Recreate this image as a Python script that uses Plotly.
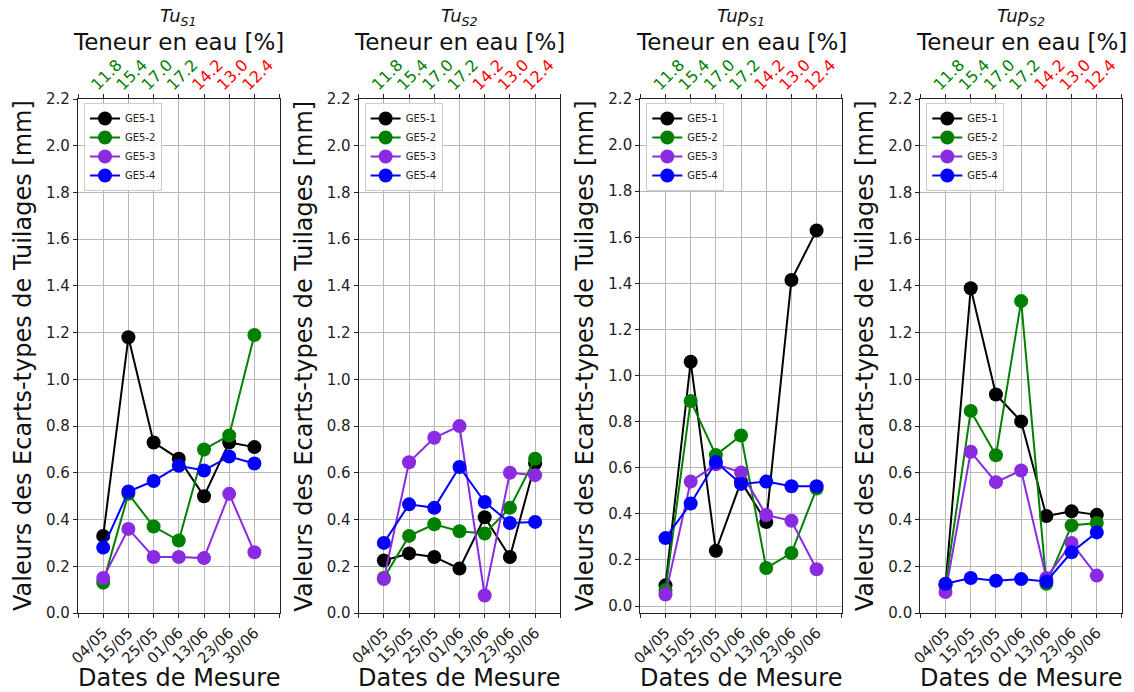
import plotly.graph_objects as go

dates = ["04/05", "15/05", "25/05", "01/06", "13/06", "23/06", "30/06"]
teneur = ["11.8", "15.4", "17.0", "17.2", "14.2", "13.0", "12.4"]
teneur_colors = ["green", "green", "green", "green", "red", "red", "red"]
series_names = ["GE5-1", "GE5-2", "GE5-3", "GE5-4"]
series_colors = ["black", "green", "blueviolet", "blue"]
panel_titles = ["Tu<sub>S1</sub>", "Tu<sub>S2</sub>", "Tup<sub>S1</sub>", "Tup<sub>S2</sub>"]

tu_s1 = [
    [0.33, 1.18, 0.73, 0.66, 0.50, 0.73, 0.71],
    [0.13, 0.51, 0.37, 0.31, 0.70, 0.76, 1.19],
    [0.15, 0.36, 0.24, 0.24, 0.235, 0.51, 0.26],
    [0.28, 0.52, 0.565, 0.63, 0.61, 0.67, 0.64],
]
tu_s2 = [
    [0.225, 0.255, 0.24, 0.19, 0.41, 0.24, 0.64],
    [0.15, 0.33, 0.38, 0.35, 0.34, 0.45, 0.66],
    [0.145, 0.645, 0.75, 0.80, 0.075, 0.60, 0.59],
    [0.30, 0.465, 0.45, 0.625, 0.475, 0.385, 0.39],
]
tup_s1 = [
    [0.09, 1.06, 0.24, 0.54, 0.365, 1.415, 1.63],
    [0.07, 0.89, 0.655, 0.74, 0.165, 0.23, 0.51],
    [0.05, 0.54, 0.615, 0.58, 0.395, 0.37, 0.16],
    [0.295, 0.445, 0.625, 0.53, 0.54, 0.52, 0.52],
]
tup_s2 = [
    [0.12, 1.39, 0.935, 0.82, 0.415, 0.435, 0.42],
    [0.12, 0.865, 0.675, 1.335, 0.125, 0.375, 0.385],
    [0.09, 0.69, 0.56, 0.61, 0.15, 0.30, 0.16],
    [0.125, 0.15, 0.138, 0.145, 0.135, 0.26, 0.345],
]
panels = [tu_s1, tu_s2, tup_s1, tup_s2]
y_ranges = [[0, 2.2], [0, 2.2], [-0.03, 2.2], [0, 2.2]]

FONT = "DejaVu Sans"
W, H = 1134, 692
ML, MR, MT, MB = 78, 12, 99, 79
PW = W - ML - MR
PH = H - MT - MB
domains = [[0.0, 0.1931], [0.2688, 0.4620], [0.5386, 0.7316], [0.8068, 1.0]]

xpos = list(range(len(dates)))
top_text = [f"<span style='color:{c}'>{t}</span>" for t, c in zip(teneur, teneur_colors)]
edge_ticks = [-1, len(dates)]

fig = go.Figure()
layout = dict(
    width=W, height=H,
    margin=dict(l=ML, r=MR, t=MT, b=MB),
    paper_bgcolor="white", plot_bgcolor="white",
    font=dict(family=FONT, color="#222222"),
    showlegend=True,
)
annotations = []
for p, data in enumerate(panels):
    i = p + 1
    xa = "x" if i == 1 else f"x{i}"
    ya = "y" if i == 1 else f"y{i}"
    leg = "legend" if i == 1 else f"legend{i}"
    for name, col, vals in zip(series_names, series_colors, data):
        fig.add_trace(go.Scatter(
            x=xpos, y=vals, name=name, mode="lines+markers",
            line=dict(color=col, width=2),
            marker=dict(color=col, size=14),
            xaxis=xa, yaxis=ya, legend=leg,
        ))
    top_idx = i + 4
    fig.add_trace(go.Scatter(x=[None], y=[None], xaxis=f"x{top_idx}", yaxis=ya,
                             showlegend=False, hoverinfo="skip"))
    axcommon = dict(
        showline=True, linecolor="#222222", linewidth=1.2,
        ticks="outside", ticklen=4, tickcolor="#222222",
        gridcolor="#b8b8b8", gridwidth=1, zeroline=False,
        tickfont=dict(family=FONT, size=15, color="#222222"),
    )
    minor_edges = dict(tickmode="array", tickvals=edge_ticks, ticks="outside",
                       ticklen=4, tickcolor="#222222", showgrid=False)
    layout[f"xaxis{i}" if i > 1 else "xaxis"] = dict(
        axcommon, domain=domains[p], anchor=ya, range=[-1, len(dates)],
        tickmode="array", tickvals=xpos, ticktext=dates,
        tickangle=-45, mirror=True, showgrid=True, minor=minor_edges,
    )
    layout[f"yaxis{i}" if i > 1 else "yaxis"] = dict(
        axcommon, domain=[0, 1], anchor=xa, range=y_ranges[p],
        tickmode="array", tickvals=[round(0.2 * k, 1) for k in range(12)],
        ticktext=[f"{0.2 * k:.1f}" for k in range(12)],
        mirror=True, showgrid=True,
    )
    layout[f"xaxis{top_idx}"] = dict(
        axcommon, overlaying=xa, side="top", anchor=ya, range=[-1, len(dates)],
        tickmode="array", tickvals=xpos, ticktext=top_text,
        tickangle=-45, showgrid=False, showline=False, minor=minor_edges,
        ticklabelshift=-11, ticklabelstandoff=-6,
        tickfont=dict(family=FONT, size=16, color="#222222"),
    )
    layout[leg] = dict(
        x=domains[p][0] + 6 / PW, y=1 - 4 / PH, xanchor="left", yanchor="top",
        bgcolor="rgba(255,255,255,0.85)", bordercolor="#cccccc", borderwidth=1,
        font=dict(family=FONT, size=10, color="#222222"), tracegroupgap=0,
    )
    xc = (domains[p][0] + domains[p][1]) / 2
    annotations.append(dict(text=f"<i>{panel_titles[p]}</i>", xref="paper", yref="paper",
                            x=xc, y=1, yshift=82, xanchor="center", yanchor="middle",
                            showarrow=False, font=dict(family=FONT, size=18, color="#111111")))
    annotations.append(dict(text="Teneur en eau [%]", xref="paper", yref="paper",
                            x=xc, y=1, yshift=57, xanchor="center", yanchor="middle",
                            showarrow=False, font=dict(family=FONT, size=23, color="#111111")))
    annotations.append(dict(text="Dates de Mesure", xref="paper", yref="paper",
                            x=xc, y=0, yshift=-65, xanchor="center", yanchor="middle",
                            showarrow=False, font=dict(family=FONT, size=24, color="#111111")))
    annotations.append(dict(text="Valeurs des Ecarts-types de Tuilages [mm]", xref="paper", yref="paper",
                            x=domains[p][0], xshift=-55, y=0.5, textangle=-90,
                            xanchor="center", yanchor="middle",
                            showarrow=False, font=dict(family=FONT, size=24, color="#111111")))
layout["annotations"] = annotations
fig.update_layout(**layout)
fig.write_html("out.html", post_script="document.body.style.margin='0px';",
               config={"displayModeBar": False})
